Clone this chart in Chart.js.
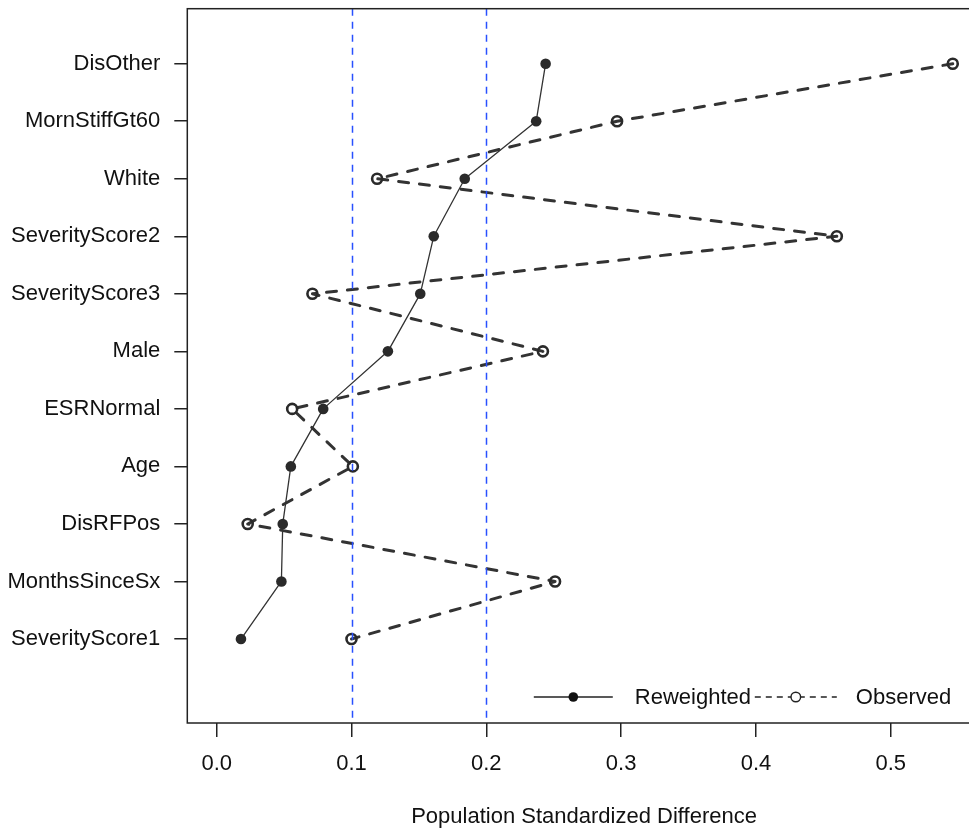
<!DOCTYPE html>
<html>
<head>
<meta charset="utf-8">
<script src="https://cdn.jsdelivr.net/npm/chart.js@4.4.1/dist/chart.umd.min.js"></script>
<style>
  html, body { margin: 0; padding: 0; background: #fff; overflow: hidden; }
  #wrap { position: absolute; left: 0; top: 0; width: 1000px; height: 850px; }
</style>
</head>
<body>
<div id="wrap"><canvas id="c"></canvas></div>
<script>
// ---- data (top to bottom as shown) ----
const categories = ['DisOther', 'MornStiffGt60', 'White', 'SeverityScore2', 'SeverityScore3',
  'Male', 'ESRNormal', 'Age', 'DisRFPos', 'MonthsSinceSx', 'SeverityScore1'];
const reweighted = [0.244, 0.237, 0.184, 0.161, 0.151, 0.127, 0.079, 0.055, 0.049, 0.048, 0.018];
const observed   = [0.546, 0.297, 0.119, 0.460, 0.071, 0.242, 0.056, 0.101, 0.023, 0.251, 0.100];
const xTickValues = [0.0, 0.1, 0.2, 0.3, 0.4, 0.5];
const refLines = [0.1, 0.2];
const seriesNames = ['Reweighted', 'Observed'];
const xTitle = 'Population Standardized Difference';

const n = categories.length;
const yPos = categories.map((_, i) => n - i);
const toPoints = arr => arr.map((v, i) => ({ x: v, y: yPos[i] }));

const FONT = '"Liberation Sans", Arial, Helvetica, sans-serif';
const INK = '#222222';

const boxPlugin = {
  id: 'rbox',
  afterDatasetsDraw(chart) {
    const { ctx, chartArea: a, scales } = chart;
    ctx.save();
    // reference lines
    ctx.strokeStyle = 'rgb(40,80,255)';
    ctx.lineWidth = 1.5;
    ctx.setLineDash([7, 6]);
    refLines.forEach(v => {
      const px = Math.round(scales.x.getPixelForValue(v)) + 0.5;
      ctx.beginPath();
      ctx.moveTo(px, a.top);
      ctx.lineTo(px, a.bottom);
      ctx.stroke();
    });
    ctx.setLineDash([]);
    // box
    ctx.strokeStyle = INK;
    ctx.lineWidth = 1.5;
    ctx.strokeRect(a.left, a.top, a.right - a.left, a.bottom - a.top);

    // legend (horizontal, bottom right, no box)
    const ly = a.bottom - 26;
    const items = [
      { seg0: a.right - 447, seg1: a.right - 368, tx: a.right - 346, ds: chart.data.datasets[0], dash: [] , open: false},
      { seg0: a.right - 226, seg1: a.right - 144, tx: a.right - 125, ds: chart.data.datasets[1], dash: [6, 5], open: true }
    ];
    ctx.font = '22px ' + FONT;
    ctx.textBaseline = 'middle';
    ctx.textAlign = 'left';
    items.forEach(it => {
      ctx.strokeStyle = INK;
      ctx.lineWidth = 1.4;
      ctx.setLineDash(it.dash);
      ctx.beginPath();
      ctx.moveTo(it.seg0, ly);
      ctx.lineTo(it.seg1, ly);
      ctx.stroke();
      ctx.setLineDash([]);
      const cx = (it.seg0 + it.seg1) / 2;
      ctx.beginPath();
      ctx.arc(cx, ly, 4.8, 0, Math.PI * 2);
      if (it.open) {
        ctx.fillStyle = '#fff';
        ctx.fill();
        ctx.lineWidth = 1.4;
        ctx.stroke();
      } else {
        ctx.fillStyle = '#111';
        ctx.fill();
      }
      ctx.fillStyle = '#111';
      ctx.fillText(it.ds.label, it.tx, ly + 1);
    });
    ctx.restore();
  }
};

new Chart(document.getElementById('c'), {
  type: 'scatter',
  data: {
    datasets: [
      {
        label: seriesNames[0],
        data: toPoints(reweighted),
        showLine: true,
        borderColor: '#333333',
        borderWidth: 1.3,
        borderJoinStyle: 'round',
        pointRadius: 5.3,
        pointBackgroundColor: '#2a2a2a',
        pointBorderColor: '#2a2a2a',
        pointBorderWidth: 0,
        order: 1
      },
      {
        label: seriesNames[1],
        data: toPoints(observed),
        showLine: true,
        borderColor: '#333333',
        borderWidth: 3,
        borderDash: [10, 11],
        borderCapStyle: 'round',
        borderJoinStyle: 'round',
        pointRadius: 5,
        pointBackgroundColor: 'rgba(0,0,0,0)',
        pointBorderColor: '#2a2a2a',
        pointBorderWidth: 2.6,
        order: 2
      }
    ]
  },
  options: {
    responsive: true,
    maintainAspectRatio: false,
    devicePixelRatio: 1,
    animation: false,
    events: [],
    layout: { padding: { left: 0, top: 8.7, right: 19.2, bottom: 0 } },
    plugins: { legend: { display: false }, tooltip: { enabled: false } },
    scales: {
      x: {
        type: 'linear',
        min: -0.0218,
        max: 0.5668,
        afterBuildTicks: axis => { axis.ticks = xTickValues.map(v => ({ value: v })); },
        afterFit: axis => { axis.height = 127; axis.paddingLeft = 0; axis.paddingRight = 0; },
        grid: { drawOnChartArea: false, drawTicks: true, tickLength: 14, color: INK, lineWidth: 1.5 },
        border: { display: false },
        ticks: {
          padding: 14,
          font: { size: 22, family: FONT },
          color: '#111',
          maxRotation: 0,
          callback: v => Number(v).toFixed(1)
        },
        title: {
          display: true,
          text: xTitle,
          font: { size: 22, family: FONT },
          color: '#111',
          padding: { top: 0, bottom: 20 }
        }
      },
      y: {
        type: 'linear',
        min: -0.46,
        max: 11.956,
        afterBuildTicks: axis => { axis.ticks = yPos.map(v => ({ value: v })); },
        afterFit: axis => { axis.width = 187.3; axis.paddingTop = 0; axis.paddingBottom = 0; },
        grid: { drawOnChartArea: false, drawTicks: true, tickLength: 13, color: INK, lineWidth: 1.5 },
        border: { display: false },
        ticks: {
          padding: 14,
          font: { size: 22, family: FONT },
          color: '#111',
          callback: v => { const i = yPos.indexOf(v); return i >= 0 ? categories[i] : ''; }
        }
      }
    }
  },
  plugins: [boxPlugin]
});
</script>
</body>
</html>
